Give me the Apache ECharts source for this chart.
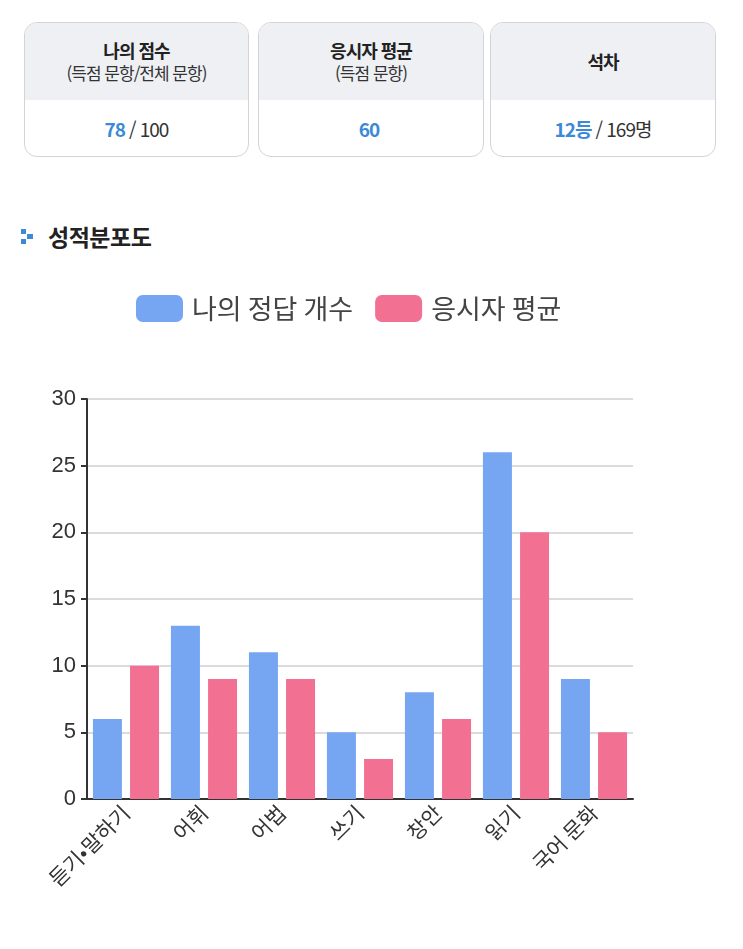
<!DOCTYPE html>
<html lang="ko">
<head>
<meta charset="utf-8" />
<title>성적분포도</title>
<script src="https://cdn.jsdelivr.net/npm/echarts@6/dist/echarts.min.js"></script>
<style>
  body { margin: 0; background: #fff; font-family: "Noto Sans CJK KR", "Noto Sans", sans-serif; color: #222; width: 743px; height: 949px; position: relative; overflow: hidden; }
  .card { position: absolute; top: 22px; height: 135px; border: 1.5px solid #d4d4d6; border-radius: 13px; overflow: hidden; box-sizing: border-box; }
  .card .head { height: 77px; background: #eef0f4; display: flex; flex-direction: column; align-items: center; justify-content: center; text-align: center; line-height: 1.35; }
  .card .head b { font-size: 18px; letter-spacing: -1px; }
  .card .head span { font-size: 17px; letter-spacing: -1px; color: #333; }
  .card .val { height: 57px; display: flex; align-items: center; justify-content: center; font-size: 19px; letter-spacing: -1px; color: #333; }
  .card .val em { font-style: normal; font-weight: bold; color: #3a8ad8; margin-right: 4px; }
  .title { position: absolute; left: 48px; top: 219px; font-size: 23px; font-weight: bold; letter-spacing: -0.5px; }
  .bullet { position: absolute; left: 21px; top: 229px; width: 15px; height: 15px; }
  #chart { position: absolute; left: 0; top: 270px; width: 743px; height: 679px; }
</style>
</head>
<body>
  <div class="card" style="left:24px;width:225px;"><div class="head"><b>나의 점수</b><span>(득점 문항/전체 문항)</span></div><div class="val"><em>78</em>/ 100</div></div>
  <div class="card" style="left:258px;width:226px;"><div class="head"><b>응시자 평균</b><span>(득점 문항)</span></div><div class="val"><em>60</em></div></div>
  <div class="card" style="left:490px;width:226px;"><div class="head"><b>석차</b></div><div class="val"><em>12등</em>/ 169명</div></div>

  <svg class="bullet" viewBox="0 0 15 15">
    <rect x="0" y="0" width="5" height="5" fill="#3a8ad8"/>
    <rect x="6" y="5" width="6" height="5" fill="#3a8ad8"/>
    <rect x="0" y="10" width="5" height="5" fill="#3a8ad8"/>
  </svg>
  <div class="title">성적분포도</div>

  <div id="chart"></div>

<script>
// 영역별 데이터
var categories = ['듣기•말하기', '어휘', '어법', '쓰기', '창안', '읽기', '국어 문화'];
var myScores = [6, 13, 11, 5, 8, 26, 9];      // 나의 정답 개수
var avgScores = [10, 9, 9, 3, 6, 20, 5];      // 응시자 평균
var yTicks = [0, 5, 10, 15, 20, 25, 30];

var chart = echarts.init(document.getElementById('chart'));
var font = '"Noto Sans CJK KR", "Noto Sans", sans-serif';
var numFont = '"Liberation Sans", Arial, sans-serif';
chart.setOption({
  animation: false,
  textStyle: { fontFamily: font },
  legend: {
    top: 20, left: 131, itemWidth: 47, itemHeight: 27, itemGap: 22,
    icon: 'roundRect',
    textStyle: { fontSize: 27, color: '#444', fontFamily: font, padding: [0, 0, 0, 4] },
    data: ['나의 정답 개수', '응시자 평균']
  },
  grid: { left: 87, right: 110, top: 129, bottom: 150 },
  xAxis: {
    type: 'category', data: categories,
    axisLine: { lineStyle: { color: '#333', width: 2 } },
    axisTick: { length: 6, lineStyle: { color: '#333', width: 2 } },
    axisLabel: { rotate: 45, fontSize: 21, color: '#333', margin: 10, fontFamily: font }
  },
  yAxis: {
    type: 'value', min: yTicks[0], max: yTicks[yTicks.length - 1], interval: 5,
    axisLine: { show: true, lineStyle: { color: '#333', width: 2 } },
    axisTick: { show: true, length: 6, lineStyle: { color: '#333', width: 2 } },
    axisLabel: { fontSize: 22, color: '#333', margin: 11, fontFamily: numFont },
    splitLine: { lineStyle: { color: '#cfcfcf', width: 1.5 } }
  },
  series: [
    { name: '나의 정답 개수', type: 'bar', data: myScores, barWidth: 29, barGap: '28%',
      itemStyle: { color: '#76a6f2' } },
    { name: '응시자 평균', type: 'bar', data: avgScores, barWidth: 29,
      itemStyle: { color: '#f27091' } }
  ]
});
</script>
</body>
</html>
